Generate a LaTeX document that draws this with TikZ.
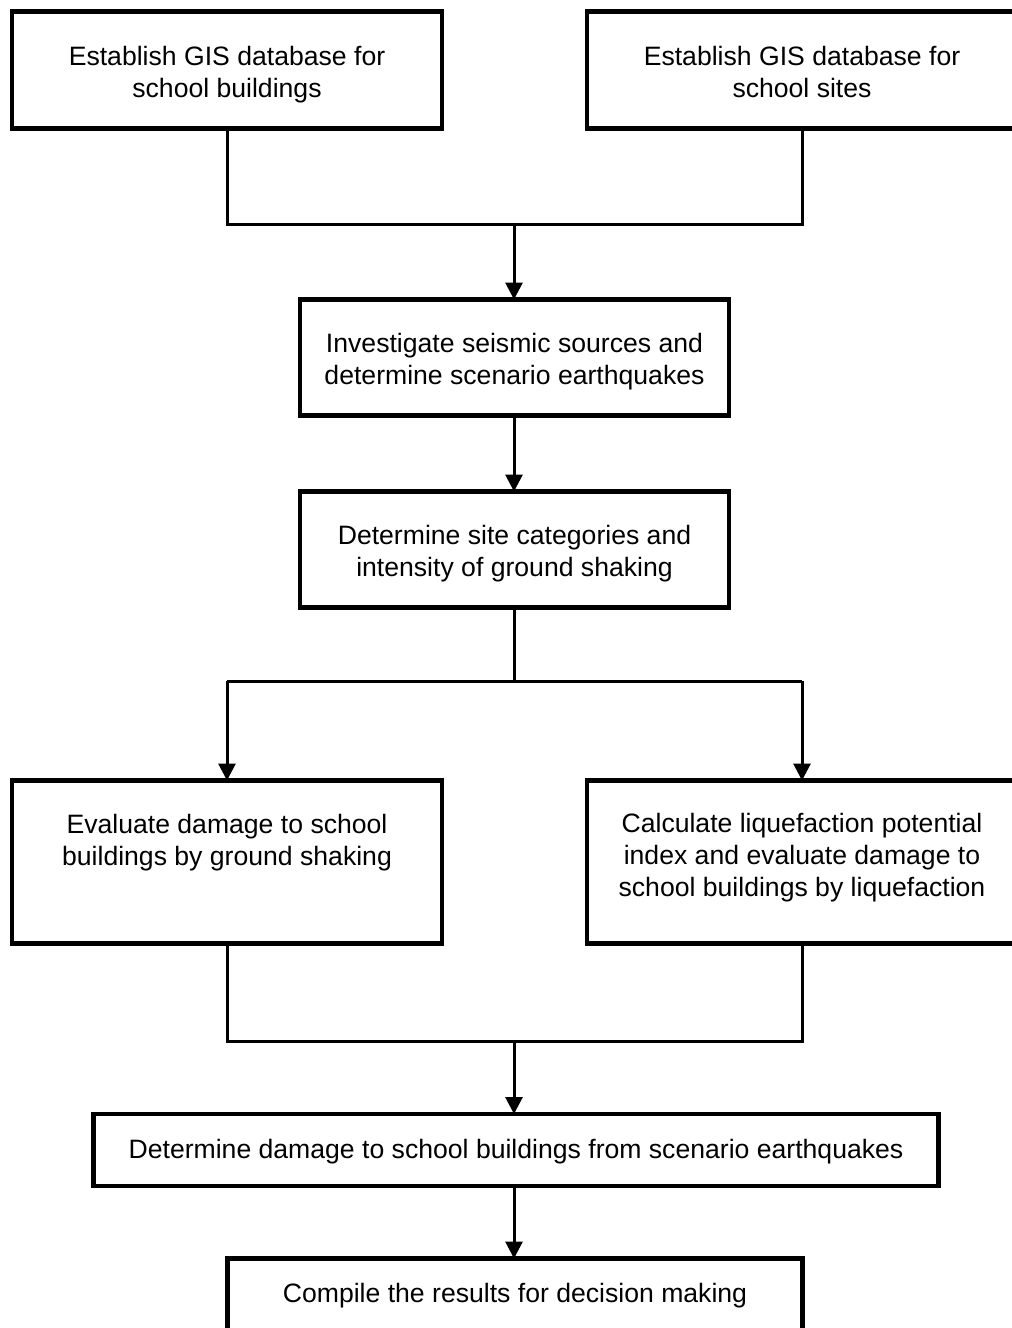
\documentclass[tikz,border=0pt]{standalone}
\usepackage{fontspec}
\setmainfont{Liberation Sans}
\usetikzlibrary{arrows.meta}
\begin{document}
\begin{tikzpicture}[x=1pt,y=-1pt,
  box/.style={draw,line width=4.5pt,inner sep=0pt,outer sep=0pt},
  txt/.style={align=center,inner sep=0pt,font=\fontsize{26.6}{32}\selectfont},
  conn/.style={line width=3pt},
  arr/.style={line width=3pt,-{Triangle[length=17pt,width=17pt]}}]
\useasboundingbox (0,0) rectangle (1012,1328);
\clip (0,0) rectangle (1012,1328);
% boxes
\node[box,minimum width=430pt,minimum height=117pt] (b1) at (227,70) {};
\node[box,minimum width=430pt,minimum height=117pt] (b2) at (802,70) {};
\node[box,minimum width=429pt,minimum height=116pt] (b3) at (514.5,357.5) {};
\node[box,minimum width=429pt,minimum height=116pt] (b4) at (514.5,549.5) {};
\node[box,minimum width=430pt,minimum height=163pt] (b5) at (227,862) {};
\node[box,minimum width=430pt,minimum height=163pt] (b6) at (802,862) {};
\node[box,minimum width=845pt,minimum height=72pt] (b7) at (516,1150) {};
\node[box,minimum width=575pt,minimum height=74pt] (b8) at (515,1295.5) {};
% texts
\node[txt] (t1) at (227,75) {Establish GIS database for\\school buildings};
\node[txt] (t2) at (802,72) {Establish GIS database for\\school sites};
\node[txt] (t3) at (514.5,362) {Investigate seismic sources and\\determine scenario earthquakes};
\node[txt] (t4) at (514.5,554) {Determine site categories and\\intensity of ground shaking};
\node[txt] (t5) at (227,843) {Evaluate damage to school\\buildings by ground shaking};
\node[txt] (t6) at (802,858) {Calculate liquefaction potential\\index and evaluate damage to\\school buildings by liquefaction};
\node[txt] (t7) at (516,1152) {Determine damage to school buildings from scenario earthquakes};
\node[txt] (t8) at (515,1296) {Compile the results for decision making};
% junctions
\coordinate (j1) at (514,224);
\coordinate (j2) at (514,681);
\coordinate (j3) at (514,1041);
% connectors
\draw[conn] (b1.south) |- (j1) -| (b2.south);
\draw[arr] (j1) -- (j1 |- b3.north);
\draw[arr] (b3.south -| j1) -- (j1 |- b4.north);
\draw[conn] (b4.south -| j2) -- (j2);
\draw[conn] (b5.north |- j2) -- (b6.north |- j2);
\draw[arr] (b5.north |- j2) -- (b5.north);
\draw[arr] (b6.north |- j2) -- (b6.north);
\draw[conn] (b5.south) |- (j3) -| (b6.south);
\draw[arr] (j3) -- (j3 |- b7.north);
\draw[arr] (b7.south -| j3) -- (j3 |- b8.north);
\end{tikzpicture}
\end{document}
